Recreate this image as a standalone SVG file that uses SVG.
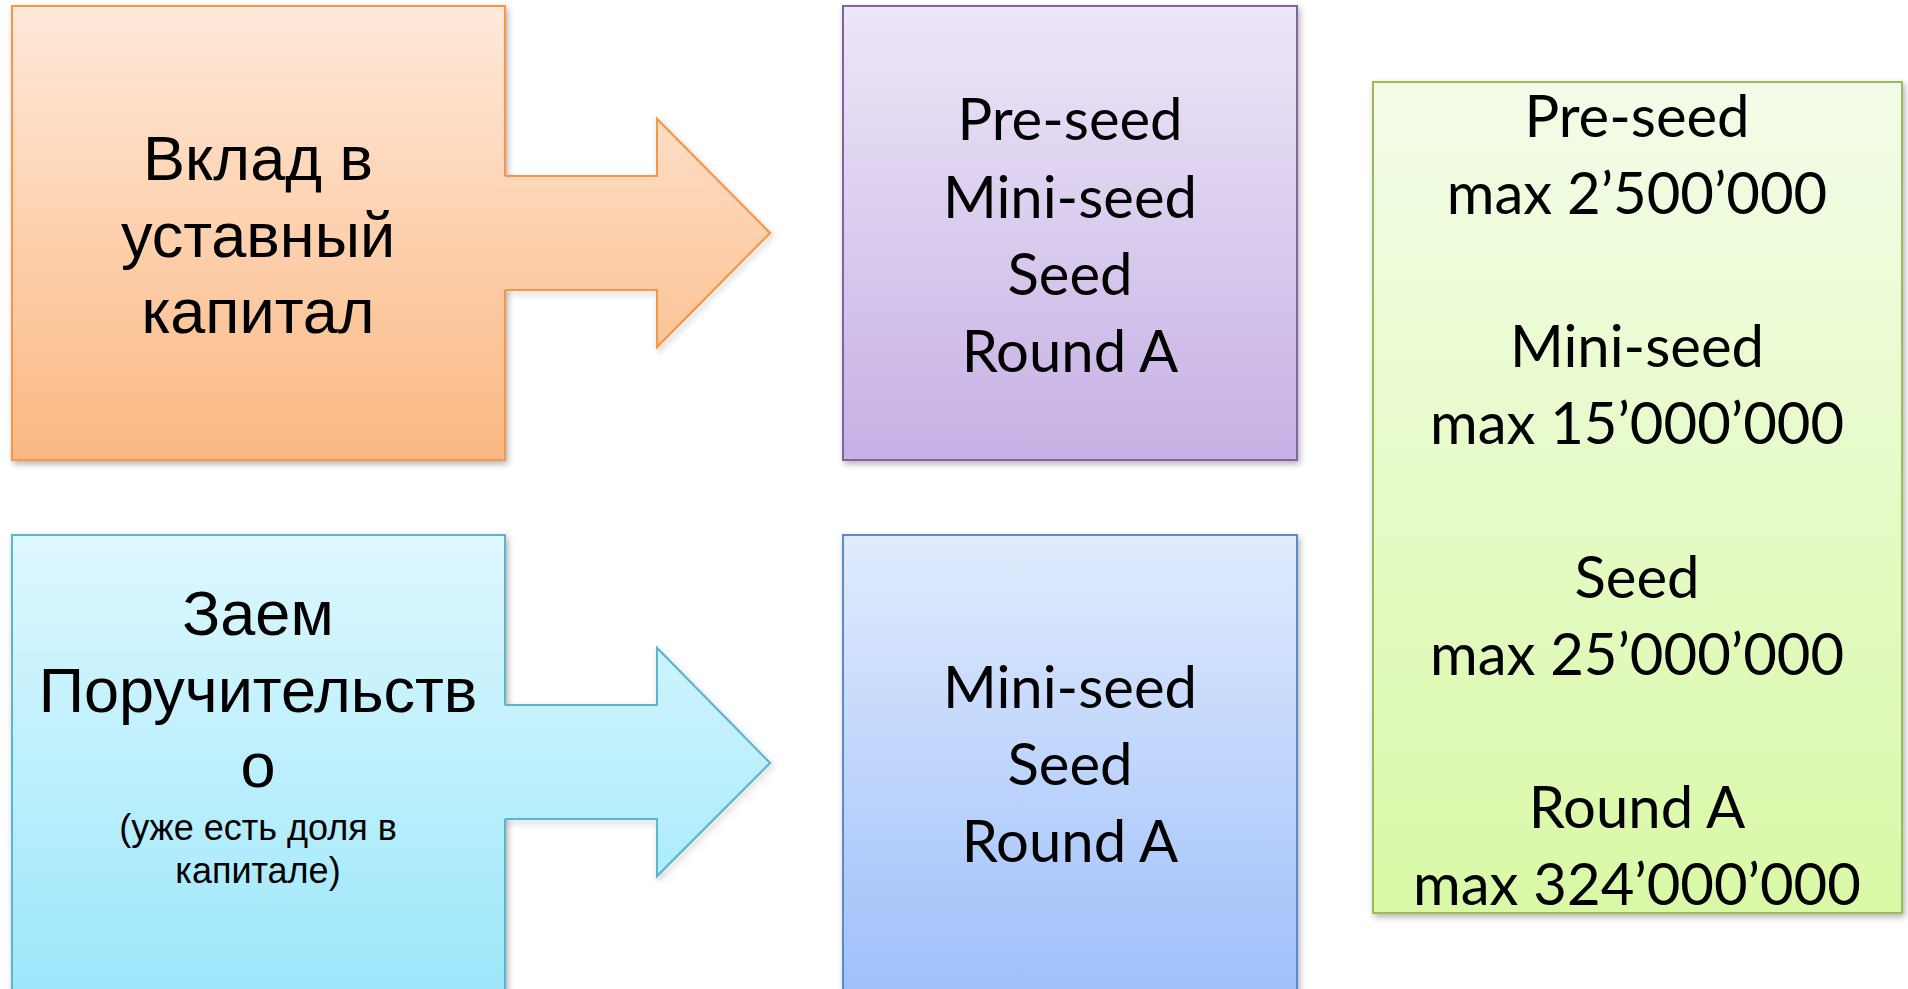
<svg xmlns="http://www.w3.org/2000/svg" width="1908" height="989" viewBox="0 0 1908 989">
<style>
.ar{font-family:"Liberation Sans",Arial,sans-serif;fill:#000;text-anchor:middle}
.cal{font-family:Lato,"Open Sans",sans-serif;fill:#000;text-anchor:middle}
.big{font-size:63px}
.small{font-size:36px}
.c{font-size:58px}
</style>
<defs>
<linearGradient id="gOr" gradientUnits="userSpaceOnUse" x1="0" y1="6" x2="0" y2="460"><stop offset="0" stop-color="#FFE9DA"/><stop offset="1" stop-color="#FBB882"/></linearGradient>
<linearGradient id="gCy" gradientUnits="userSpaceOnUse" x1="0" y1="535" x2="0" y2="989"><stop offset="0" stop-color="#DEF8FE"/><stop offset="1" stop-color="#9DE7FB"/></linearGradient>
<linearGradient id="gPu" gradientUnits="userSpaceOnUse" x1="0" y1="6" x2="0" y2="460"><stop offset="0" stop-color="#EDE7F8"/><stop offset="1" stop-color="#C6B0E4"/></linearGradient>
<linearGradient id="gBl" gradientUnits="userSpaceOnUse" x1="0" y1="535" x2="0" y2="989"><stop offset="0" stop-color="#E1EBFD"/><stop offset="1" stop-color="#9FC0FA"/></linearGradient>
<linearGradient id="gGr" gradientUnits="userSpaceOnUse" x1="0" y1="82" x2="0" y2="913"><stop offset="0" stop-color="#F3FCE8"/><stop offset="1" stop-color="#D9F9A6"/></linearGradient>
<filter id="sh" x="-5%" y="-5%" width="112%" height="112%"><feDropShadow dx="2" dy="3" stdDeviation="3" flood-color="#000" flood-opacity="0.3"/></filter>
</defs>

<g id="node-vklad">
<rect x="12" y="6" width="493" height="454" fill="url(#gOr)" stroke="#F79646" stroke-width="2" filter="url(#sh)"/>
<text class="ar big"><tspan x="258" y="180">Вклад в</tspan><tspan x="258" y="257">уставный</tspan><tspan x="258" y="333">капитал</tspan></text>
</g>

<g id="node-zaem">
<rect x="12" y="535" width="493" height="460" fill="url(#gCy)" stroke="#5BB5CF" stroke-width="2" filter="url(#sh)"/>
<text class="ar big"><tspan x="258" y="635">Заем</tspan><tspan x="258" y="712">Поручительств</tspan><tspan x="258" y="787">о</tspan></text>
<text class="ar small"><tspan x="258" y="840">(уже есть доля в</tspan><tspan x="258" y="883">капитале)</tspan></text>
</g>

<g id="node-stages-top">
<rect x="843" y="6" width="454" height="454" fill="url(#gPu)" stroke="#8064A2" stroke-width="2" filter="url(#sh)"/>
<text class="cal c"><tspan x="1070" y="140">Pre-seed</tspan><tspan x="1070" y="218">Mini-seed</tspan><tspan x="1070" y="295">Seed</tspan><tspan x="1070" y="372">Round A</tspan></text>
</g>

<g id="node-stages-bottom">
<rect x="843" y="535" width="454" height="460" fill="url(#gBl)" stroke="#5B8BC9" stroke-width="2" filter="url(#sh)"/>
<text class="cal c"><tspan x="1070" y="708">Mini-seed</tspan><tspan x="1070" y="785">Seed</tspan><tspan x="1070" y="862">Round A</tspan></text>
</g>

<g id="node-limits">
<rect x="1373" y="82" width="529" height="831" fill="url(#gGr)" stroke="#9BBB59" stroke-width="2" filter="url(#sh)"/>
<text class="cal c"><tspan x="1637" y="137">Pre-seed</tspan><tspan x="1637" y="214">max 2’500’000</tspan><tspan x="1637" y="367">Mini-seed</tspan><tspan x="1637" y="444">max 15’000’000</tspan><tspan x="1637" y="598">Seed</tspan><tspan x="1637" y="675">max 25’000’000</tspan><tspan x="1637" y="828">Round A</tspan><tspan x="1637" y="905">max 324’000’000</tspan></text>
</g>

<g id="connectors">
<g id="arrow-top">
<polyline points="505,176 657,176 657,119 770,233 657,347 657,290 505,290" fill="none" stroke="#F79646" stroke-width="2" filter="url(#sh)"/>
<polygon points="503,176 657,176 657,119 770,233 657,347 657,290 503,290" fill="url(#gOr)"/>
<polyline points="505,176 657,176 657,119 770,233 657,347 657,290 505,290" fill="none" stroke="#F79646" stroke-width="2"/>
</g>
<g id="arrow-bottom">
<polyline points="505,705 657,705 657,648 770,763 657,876 657,819 505,819" fill="none" stroke="#5BB5CF" stroke-width="2" filter="url(#sh)"/>
<polygon points="503,705 657,705 657,648 770,763 657,876 657,819 503,819" fill="url(#gCy)"/>
<polyline points="505,705 657,705 657,648 770,763 657,876 657,819 505,819" fill="none" stroke="#5BB5CF" stroke-width="2"/>
</g>
</g>
</svg>
